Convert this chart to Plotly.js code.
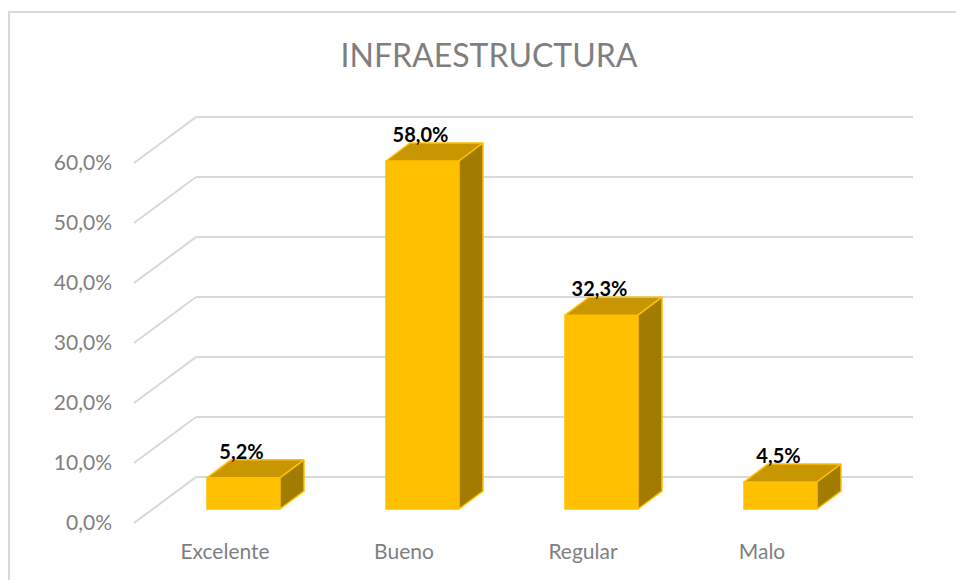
<!DOCTYPE html>
<html>
<head>
<meta charset="utf-8">
<script src="https://cdn.plot.ly/plotly-3.0.1.min.js"></script>
<style>
  html, body { margin: 0; padding: 0; background: #fff; overflow: hidden; }
  #wrap { position: relative; width: 956px; height: 580px; }
  #chart { width: 956px; height: 580px; }
  #frame { position: absolute; left: 8px; top: 11px; width: 1000px; height: 1000px;
           border: 2px solid #d9d9d9; pointer-events: none; box-sizing: border-box; }
</style>
</head>
<body>
<div id="wrap">
  <div id="chart"></div>
  <div id="frame"></div>
</div>
<script>
// ---- data ----
const categories = ["Excelente", "Bueno", "Regular", "Malo"];
const values = [5.2, 58.0, 32.3, 4.5];
const valueLabels = ["5,2%", "58,0%", "32,3%", "4,5%"];
const gridValues = [0, 10, 20, 30, 40, 50, 60];
const gridLabels = ["0,0%", "10,0%", "20,0%", "30,0%", "40,0%", "50,0%", "60,0%"];

// ---- style / geometry constants (pixel-based 3D projection) ----
const PX_X = 179;        // px per category unit
const PX_Y = 6;          // px per percent
const BAR_W = 73 / PX_X; // bar width in category units
const DEPTH_X = 24 / PX_X;
const DEPTH_Y = 18 / PX_Y;
const BACK_OFF = 32 / PX_Y;     // back wall offset (in %)
const FRONT_OFF = -14 / PX_Y;   // front edge offset (in %)
const WALL_X0 = (196 - 243.5) / PX_X;
const WALL_X1 = (913 - 243.5) / PX_X;
const FRONT_X0 = (134 - 243.5) / PX_X;
const CAT_LABEL_DX = -18.5 / PX_X;
const LABEL_DY = -4 / PX_Y;

const L = 113, R = 26, T = 80, B = 43;
const W = 956, H = 580;
const xMin = (L - 243.5) / PX_X;
const xMax = (W - R - 243.5) / PX_X;
const yMax = (509 - T) / PX_Y;
const yMin = (509 - (H - B)) / PX_Y;

const GRID = "#d9d9d9";
const FRONT = "#FFC000", TOP = "#C89600", SIDE = "#A27C00";
const FONT = "Lato, 'Open Sans', sans-serif";

// gridlines as below-layer shapes (back wall + slanted side lines)
const shapes = [];
gridValues.forEach(v => {
  shapes.push({ type: "line", layer: "below", xref: "x", yref: "y",
    x0: FRONT_X0, y0: v + FRONT_OFF, x1: WALL_X0, y1: v + BACK_OFF,
    line: { color: GRID, width: 2 } });
  shapes.push({ type: "line", layer: "below", xref: "x", yref: "y",
    x0: WALL_X0, y0: v + BACK_OFF, x1: WALL_X1, y1: v + BACK_OFF,
    line: { color: GRID, width: 2 } });
});

const traces = [];
const idx = categories.map((c, i) => i);

// front faces (native bars)
traces.push({ type: "bar", x: idx, y: values, width: BAR_W, base: 0,
  marker: { color: FRONT, line: { color: FRONT, width: 1.5 } },
  hoverinfo: "skip", showlegend: false });

// top and side faces
values.forEach((v, i) => {
  const xl = i - BAR_W / 2, xr = i + BAR_W / 2;
  traces.push({ type: "scatter", mode: "lines", fill: "toself", fillcolor: TOP,
    x: [xl, xr, xr + DEPTH_X, xl + DEPTH_X, xl],
    y: [v, v, v + DEPTH_Y, v + DEPTH_Y, v],
    line: { color: FRONT, width: 1.5 }, hoverinfo: "skip", showlegend: false });
  traces.push({ type: "scatter", mode: "lines", fill: "toself", fillcolor: SIDE,
    x: [xr, xr, xr + DEPTH_X, xr + DEPTH_X, xr],
    y: [0, v, v + DEPTH_Y, DEPTH_Y, 0],
    line: { color: FRONT, width: 1.5 }, hoverinfo: "skip", showlegend: false });
});

// value labels
traces.push({ type: "scatter", mode: "text",
  x: idx.map(i => i - 2 / PX_X), y: values.map(v => v + DEPTH_Y + LABEL_DY),
  text: valueLabels, textposition: "top center",
  textfont: { family: FONT, size: 20, color: "#000000", weight: "bold" },
  cliponaxis: false, hoverinfo: "skip", showlegend: false });

const layout = {
  width: W, height: H,
  margin: { l: L, r: R, t: T, b: B, pad: 0 },
  paper_bgcolor: "rgba(0,0,0,0)", plot_bgcolor: "rgba(0,0,0,0)",
  title: { text: "INFRAESTRUCTURA", x: 489 / W, xanchor: "center", y: 1 - 56 / H, yanchor: "middle",
    font: { family: FONT, size: 32, color: "#7f7f7f" } },
  xaxis: { range: [xMin, xMax], showgrid: false, zeroline: false, showline: false,
    tickmode: "array", tickvals: idx.map(i => i + CAT_LABEL_DX), ticktext: categories,
    ticks: "", tickfont: { family: FONT, size: 21, color: "#7f7f7f" },
    fixedrange: true },
  yaxis: { range: [yMin, yMax], showgrid: false, zeroline: false, showline: false,
    tickmode: "array", tickvals: gridValues.map(v => v + FRONT_OFF), ticktext: gridLabels,
    ticks: "", tickfont: { family: FONT, size: 21, color: "#7f7f7f" },
    fixedrange: true },
  shapes: shapes,
  bargap: 0, showlegend: false
};

Plotly.newPlot("chart", traces, layout, { displayModeBar: false, staticPlot: true });
</script>
</body>
</html>
